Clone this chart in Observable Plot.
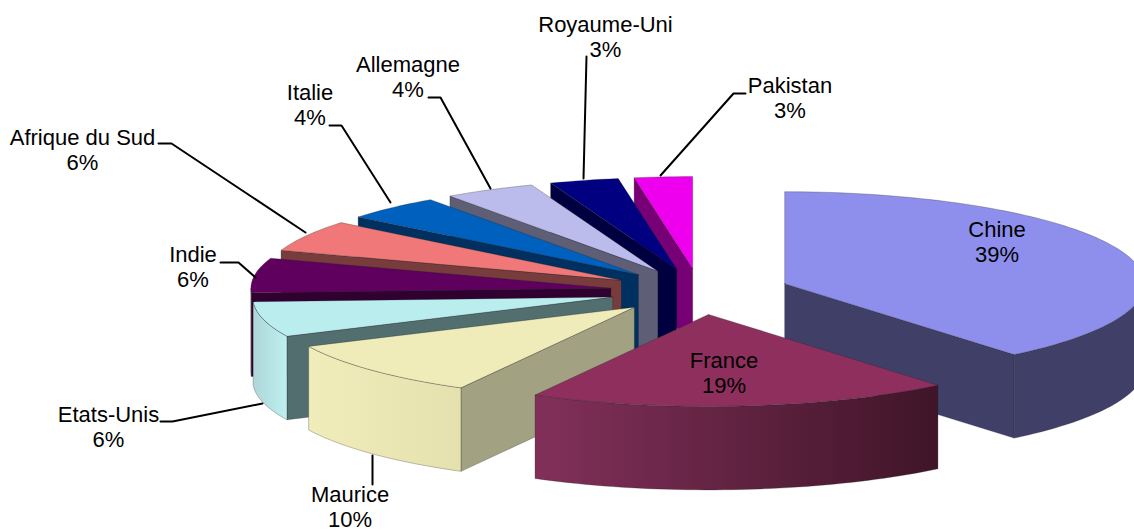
<!DOCTYPE html>
<html><head><meta charset="utf-8">
<style>html,body{margin:0;padding:0;background:#fff}svg{display:block}</style>
<script src="https://cdn.jsdelivr.net/npm/d3@7"></script>
<script src="https://cdn.jsdelivr.net/npm/@observablehq/plot@0.6"></script>
</head><body><div id="chart"></div>
<script>
// Data
const categories = ["Chine","France","Maurice","Etats-Unis","Indie","Afrique du Sud","Italie","Allemagne","Royaume-Uni","Pakistan"];
const shares = [39,19,10,6.2,6.1,5.5,4.4,4.1,3.1,2.6];

// Styles
const topColors  = ["#8E8EEC","#8E2F5E","#EFECBA","#BAEEEE","#5F005F","#F07878","#0060BE","#BCBCEC","#000080","#EE00EE"];
const wallColors = ["#3F3F67","#47172F","#A2A283","#526E6E","#300030","#783C3C","#003060","#5E5E76","#000040","#770077"];
const rimColors  = ["#3F3F67","url(#g-france)","url(#g-maurice)","url(#g-usa)","#300030","#783C3C","#003060","#5E5E76","#000040","#770077"];
const gradients = [
  ["g-france","#82305A","#3F1528"],
  ["g-maurice","#F0EDBA","#E4E1AE"],
  ["g-usa","#AFD6D9","#BDF0F0"]
];

// Layout of the projected pie (pixels on the x / y scales)
const W = 1134, H = 531;
const cx = 699.5, cy = 291, rx = 360, ry = 92, depth = 83.5, explode = 0.25;
const drawOrder = [0,9,8,7,6,5,4,3,2,1];
// label centres and leader paths
const labelX = [996.5,723.5,349.5,108,192.5,82,309.5,407.5,605,789.5];
const labelY = [241,372,506,426,266,149,104,76,36,97];
const leaders = [
  null, null,
  [[372,455],[372,484]],
  [[262,403],[172,421],[160,421]],
  [[255,277],[238,262],[220,262]],
  [[305,232],[171,143],[158,143]],
  [[390,202],[341,125],[329,125]],
  [[490,188],[440,97],[428,97]],
  [[583,178],[586,56]],
  [[660,175],[733,93],[745,93]]
];

const rad = d => d * Math.PI / 180;
const total = d3.sum(shares);
const arcs = [];
let acc = 0;
for (const v of shares) { const a0 = acc/total*360; acc += v; arcs.push([a0, acc/total*360]); }

function point(i, r, deg, z) {
  const [a0,a1] = arcs[i], b = rad((a0+a1)/2), t = rad(deg);
  return {
    x: cx + rx*(explode*Math.sin(b) + r*Math.sin(t)),
    y: cy - ry*(explode*Math.cos(b) + r*Math.cos(t)) + z
  };
}
function arcPts(i, from, to, z) {
  const n = Math.max(2, Math.ceil(Math.abs(to-from)/1.5)), out = [];
  for (let k=0;k<=n;k++) out.push(point(i,1,from+(to-from)*k/n,z));
  return out;
}
const outline = {stroke:"#222", strokeOpacity:0.35, strokeWidth:0.8, strokeLinejoin:"round"};
function poly(pts, fill) {
  return Plot.line([...pts, pts[0]], {x:"x", y:"y", fill, ...outline});
}
const faces = [];
for (const i of drawOrder) {
  const [a0,a1] = arcs[i];
  if (Math.sin(rad(a0)) < -1e-6) faces.push(poly([point(i,0,a0,0),point(i,1,a0,0),point(i,1,a0,depth),point(i,0,a0,depth)], wallColors[i]));
  if (Math.sin(rad(a1)) > 1e-6) faces.push(poly([point(i,0,a1,0),point(i,1,a1,0),point(i,1,a1,depth),point(i,0,a1,depth)], wallColors[i]));
  const f0 = Math.max(a0,90), f1 = Math.min(a1,270);
  if (f1 > f0) faces.push(poly([...arcPts(i,f0,f1,0), ...arcPts(i,f1,f0,depth)], rimColors[i]));
  faces.push(poly([point(i,0,a0,0), ...arcPts(i,a0,a1,0)], topColors[i]));
}
const defsMark = () => {
  const NS = "http://www.w3.org/2000/svg";
  const defs = document.createElementNS(NS,"defs");
  for (const [id,c0,c1] of gradients) {
    const g = document.createElementNS(NS,"linearGradient");
    g.setAttribute("id",id);
    [[0,c0],[1,c1]].forEach(([o,c]) => {
      const s = document.createElementNS(NS,"stop");
      s.setAttribute("offset",o); s.setAttribute("stop-color",c); g.appendChild(s);
    });
    defs.appendChild(g);
  }
  return defs;
};
const leaderMarks = leaders.filter(Boolean).map(p =>
  Plot.line(p.map(([x,y])=>({x,y})), {x:"x", y:"y", stroke:"#000", strokeWidth:2}));
const labels = categories.map((c,i)=>({text:`${c}\n${Math.round(shares[i])}%`, x:labelX[i], y:labelY[i]}));

const chart = Plot.plot({
  width:W, height:H, margin:0,
  x:{domain:[0,W], range:[0,W], axis:null},
  y:{domain:[0,H], range:[0,H], axis:null},
  style:{background:"#fff"},
  marks:[
    defsMark,
    ...faces,
    ...leaderMarks,
    Plot.text(labels,{x:"x",y:"y",text:"text",fontSize:22,lineHeight:1.11,fontFamily:"Liberation Sans, Arial, sans-serif",fill:"#000"})
  ]
});
document.getElementById("chart").appendChild(chart);
</script></body></html>
